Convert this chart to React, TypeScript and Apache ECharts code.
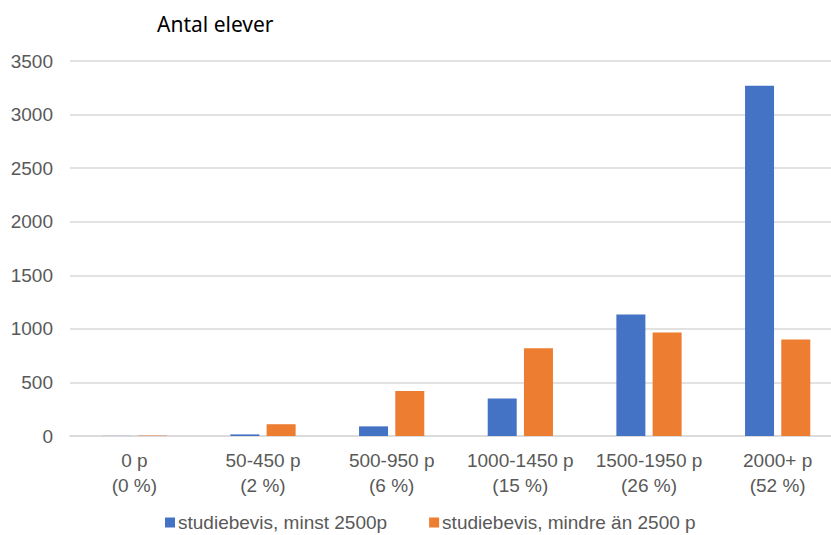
import React, { useEffect, useRef } from "react";
import * as echarts from "echarts";

const categories = ["0 p\n(0 %)", "50-450 p\n(2 %)", "500-950 p\n(6 %)", "1000-1450 p\n(15 %)", "1500-1950 p\n(26 %)", "2000+ p\n(52 %)"];
const seriesNames = ["studiebevis, minst 2500p", "studiebevis, mindre än 2500 p"];
const minst2500 = [1, 15, 90, 350, 1135, 3270];
const mindre2500 = [4, 110, 420, 820, 965, 900];
const yTicks = { min: 0, max: 3500, interval: 500 };

export default function App() {
  const ref = useRef<HTMLDivElement>(null);
  useEffect(() => {
    if (!ref.current) return;
    const chart = echarts.init(ref.current, null, { renderer: "svg" });
    const font = "'Liberation Sans', Arial, sans-serif";
    chart.setOption({
      animation: false,
      backgroundColor: "#ffffff",
      title: {
        text: "Antal elever",
        left: 152,
        top: 8,
        textStyle: { fontFamily: "'Noto Sans', sans-serif", fontSize: 21, fontWeight: "normal", color: "#000000" },
      },
      legend: {
        top: 511,
        left: 160,
        padding: [2, 5, 2, 5],
        itemWidth: 10,
        itemHeight: 10,
        itemGap: 42,
        icon: "rect",
        textStyle: { fontFamily: font, fontSize: 19, color: "#595959", padding: [0, 0, 0, -2] },
        data: seriesNames,
      },
      grid: { left: 70, right: 0, top: 61, bottom: 99, containLabel: false },
      xAxis: {
        type: "category",
        data: categories,
        axisTick: { show: false },
        axisLine: { show: true, lineStyle: { color: "#D9D9D9", width: 1.5 } },
        axisLabel: { fontFamily: font, fontSize: 19, color: "#595959", lineHeight: 25, margin: 12, interval: 0 },
      },
      yAxis: {
        type: "value",
        min: yTicks.min,
        max: yTicks.max,
        interval: yTicks.interval,
        axisLine: { show: false },
        axisTick: { show: false },
        splitLine: { lineStyle: { color: "#D9D9D9", width: 1.5 } },
        axisLabel: { fontFamily: font, fontSize: 19, color: "#595959", margin: 17, formatter: (v: number) => String(v) },
      },
      series: [
        { name: seriesNames[0], type: "bar", data: minst2500, barWidth: 29, barGap: "25%", itemStyle: { color: "#4472C4" } },
        { name: seriesNames[1], type: "bar", data: mindre2500, barWidth: 29, barGap: "25%", itemStyle: { color: "#ED7D31" } },
      ],
    });
    return () => chart.dispose();
  }, []);
  return (
    <div style={{ position: "fixed", left: 0, top: 0, width: 831, height: 535, overflow: "hidden", background: "#fff" }}>
      <div ref={ref} style={{ width: 842, height: 535 }} />
    </div>
  );
}
